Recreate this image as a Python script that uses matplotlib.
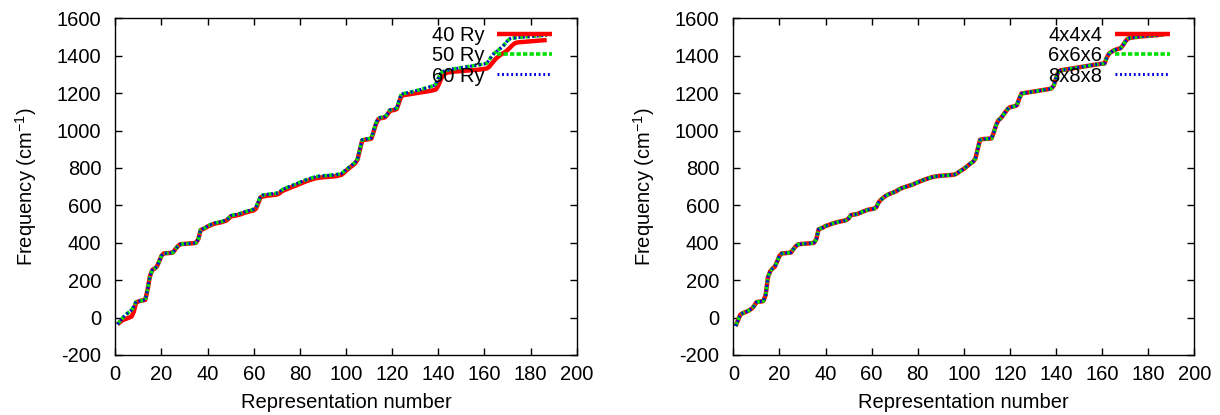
import matplotlib
matplotlib.use("Agg")
import matplotlib.pyplot as plt
import numpy as np

plt.rcParams['font.family'] = ['Liberation Sans', 'DejaVu Sans']
plt.rcParams['axes.unicode_minus'] = False
plt.rcParams['mathtext.fontset'] = 'custom'
plt.rcParams['mathtext.rm'] = 'Liberation Sans'
plt.rcParams['mathtext.it'] = 'Liberation Sans'
plt.rcParams['mathtext.default'] = 'regular'

# ---- data ----
mode_index = list(range(1, 188))

freq_50ry = [
    -36, -20, -5, 10, 20, 30, 40, 60, 85, 88,
    90, 92, 95, 150, 220, 254, 262, 272, 300, 330,
    343, 344, 345, 346, 348, 365, 380, 391, 393, 394,
    395, 396, 397, 398, 400, 420, 470, 475, 480, 490,
    495, 500, 505, 508, 510, 513, 517, 521, 530, 545,
    548, 550, 553, 556, 560, 565, 568, 572, 575, 580,
    590, 620, 650, 655, 657, 659, 660, 662, 663, 665,
    670, 680, 688, 693, 698, 703, 708, 712, 718, 723,
    728, 733, 738, 742, 746, 750, 753, 755, 757, 758,
    759, 760, 761, 762, 763, 765, 767, 770, 780, 790,
    800, 810, 820, 830, 850, 900, 950, 953, 955, 957,
    960, 1000, 1040, 1065, 1070, 1072, 1075, 1090, 1110, 1112,
    1115, 1120, 1160, 1195, 1198, 1200, 1203, 1205, 1208, 1212,
    1215, 1218, 1222, 1225, 1228, 1232, 1236, 1240, 1250, 1280,
    1305, 1315, 1320, 1323, 1326, 1328, 1330, 1332, 1334, 1336,
    1338, 1340, 1342, 1344, 1346, 1348, 1350, 1352, 1354, 1356,
    1360, 1375, 1395, 1410, 1420, 1430, 1440, 1450, 1465, 1480,
    1490, 1493, 1495, 1497, 1498, 1499, 1500, 1501, 1502, 1503,
    1504, 1505, 1506, 1507, 1508, 1509, 1510,
]

freq_40ry = [
    -36, -25, -15, -10, -5, 0, 5, 30, 80, 86,
    90, 92, 95, 150, 220, 254, 262, 272, 300, 330,
    343, 344, 345, 346, 348, 365, 380, 391, 393, 394,
    395, 396, 397, 398, 400, 420, 468, 473, 478, 487,
    492, 497, 502, 505, 507, 510, 514, 518, 527, 540,
    543, 545, 548, 551, 555, 560, 563, 567, 570, 573,
    583, 613, 643, 648, 650, 652, 653, 655, 656, 658,
    663, 673, 680, 685, 690, 695, 700, 704, 710, 715,
    720, 725, 730, 734, 738, 742, 745, 747, 749, 750,
    751, 752, 753, 754, 755, 757, 760, 763, 773, 785,
    795, 805, 815, 825, 845, 895, 946, 950, 952, 954,
    957, 995, 1035, 1060, 1066, 1068, 1071, 1086, 1105, 1108,
    1110, 1115, 1150, 1185, 1189, 1191, 1193, 1195, 1197, 1199,
    1201, 1203, 1205, 1207, 1209, 1211, 1213, 1216, 1220, 1240,
    1270, 1295, 1305, 1310, 1312, 1313, 1315, 1316, 1317, 1318,
    1319, 1320, 1321, 1322, 1323, 1324, 1325, 1326, 1328, 1330,
    1332, 1340, 1355, 1370, 1385, 1395, 1405, 1412, 1420, 1430,
    1442, 1455, 1465, 1470, 1472, 1473, 1474, 1475, 1476, 1477,
    1478, 1479, 1480, 1481, 1482, 1483, 1484,
]

# 60 Ry is indistinguishable from 50 Ry at the reference's resolution
freq_60ry = list(freq_50ry)

freq_k4 = [
    -45, -15, 15, 23, 28, 33, 40, 48, 62, 82,
    85, 86, 88, 120, 215, 248, 262, 272, 300, 330,
    343, 344, 345, 346, 348, 365, 380, 391, 393, 394,
    395, 396, 397, 398, 400, 420, 472, 477, 482, 490,
    493, 498, 503, 506, 510, 513, 515, 518, 521, 530,
    548, 550, 552, 555, 560, 566, 570, 575, 578, 580,
    582, 590, 615, 630, 640, 650, 657, 662, 667, 672,
    678, 686, 692, 696, 700, 704, 708, 712, 718, 723,
    728, 733, 738, 742, 746, 750, 753, 755, 757, 758,
    759, 760, 761, 762, 763, 765, 770, 780, 788, 795,
    805, 815, 825, 833, 850, 900, 950, 954, 955, 956,
    957, 958, 990, 1030, 1055, 1065, 1082, 1100, 1115, 1125,
    1127, 1130, 1135, 1170, 1198, 1200, 1202, 1204, 1206, 1208,
    1210, 1212, 1214, 1216, 1218, 1220, 1222, 1225, 1240, 1280,
    1315, 1322, 1324, 1326, 1328, 1330, 1332, 1334, 1336, 1338,
    1340, 1342, 1344, 1346, 1348, 1350, 1352, 1354, 1356, 1357,
    1358, 1390, 1412, 1420, 1428, 1433, 1437, 1440, 1455, 1475,
    1490, 1495, 1497, 1499, 1500, 1502, 1503, 1504, 1505, 1506,
    1507, 1508, 1509, 1510, 1512, 1513, 1515,
]
# 6x6x6 and 8x8x8 coincide with 4x4x4 at the reference's resolution
freq_k6 = list(freq_k4)
freq_k8 = list(freq_k4)

left_labels = ["40 Ry", "50 Ry", "60 Ry"]
right_labels = ["4x4x4", "6x6x6", "8x8x8"]
x_ticks = list(range(0, 201, 20))
y_ticks = list(range(-200, 1601, 200))

# ---- styles ----
FS = 14.5
styles = [
    dict(color="#ff0000", lw=3.2, linestyle="-", solid_capstyle="butt"),
    dict(color="#00e000", lw=2.6, linestyle=(0, (1.2, 0.6))),
    dict(color="#0000e0", lw=2.2, linestyle=(0, (0.6, 0.9))),
]

fig = plt.figure(figsize=(12.2, 4.15), dpi=100)
ax1 = fig.add_axes([0.0945, 0.1446, 0.3782, 0.8113])
ax2 = fig.add_axes([0.6011, 0.1446, 0.3779, 0.8113])


def setup(ax, series, labels):
    for ys, lab, st in zip(series, labels, styles):
        ax.plot(mode_index, ys, label=lab, **st)
    ax.set_xlim(0, 200)
    ax.set_ylim(-200, 1600)
    ax.set_xticks(x_ticks)
    ax.set_yticks(y_ticks)
    ax.tick_params(direction="in", length=5, width=1, top=True, right=True,
                   labelsize=FS, colors="black")
    ax.tick_params(axis="x", pad=7.5)
    ax.tick_params(axis="y", pad=10)
    for sp in ax.spines.values():
        sp.set_linewidth(1.0)
    ax.set_xlabel("Representation number", fontsize=FS, labelpad=6.5)
    ax.set_ylabel("Frequency (cm$^{-1}$)", fontsize=FS, labelpad=13)
    ax.legend(loc="upper right", bbox_to_anchor=(0.947, 0.978), frameon=False,
              markerfirst=False, fontsize=FS, handlelength=2.75,
              handletextpad=0.6, labelspacing=0.07, borderpad=0,
              borderaxespad=0)


setup(ax1, [freq_40ry, freq_50ry, freq_60ry], left_labels)
setup(ax2, [freq_k4, freq_k6, freq_k8], right_labels)

fig.savefig("out.png", dpi=100)
